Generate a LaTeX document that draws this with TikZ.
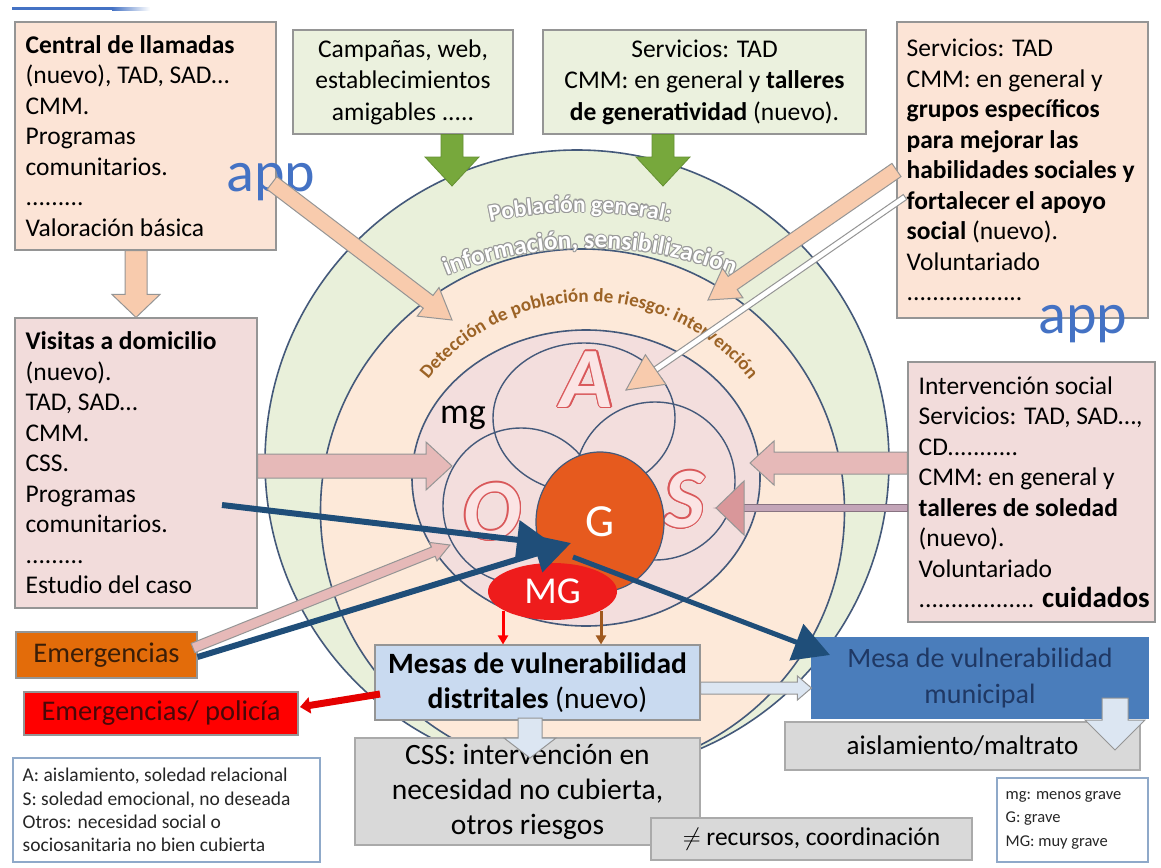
\documentclass[tikz,border=0pt]{standalone}
\usepackage{fontspec}
\setmainfont{Carlito}
\usepackage{contour}
\contourlength{1.3pt}
\usetikzlibrary{calc,arrows.meta,decorations.text,shapes.geometric}

\definecolor{peachfill}{HTML}{FCE4D6}
\definecolor{greenfill}{HTML}{EBF1DE}
\definecolor{pinkfill}{HTML}{F2DCDB}
\definecolor{ringgreen}{HTML}{E9F0DA}
\definecolor{ringpeach}{HTML}{FDE9D9}
\definecolor{ringpink}{HTML}{F3DEDD}
\definecolor{ringline}{HTML}{44597A}
\definecolor{boxline}{HTML}{959595}
\definecolor{arrowpeach}{HTML}{F8CBAD}
\definecolor{arrowpink}{HTML}{E6B9B8}
\definecolor{arrowrose}{HTML}{D9979A}
\definecolor{arrowmauve}{HTML}{C3A5B8}
\definecolor{arrowgreen}{HTML}{77A83C}
\definecolor{navy}{HTML}{1F4E79}
\definecolor{gfill}{HTML}{E65A1E}
\definecolor{mgfill}{HTML}{EE1C1C}
\definecolor{orangebox}{HTML}{E36C0A}
\definecolor{lightblue}{HTML}{C9DAF0}
\definecolor{paleblue}{HTML}{DCE6F2}
\definecolor{midblue}{HTML}{4A7DBB}
\definecolor{darknavy}{HTML}{1F3864}
\definecolor{grayfill}{HTML}{D9D9D9}
\definecolor{appblue}{HTML}{4472C4}
\definecolor{brownarr}{HTML}{A0591E}
\definecolor{dettext}{HTML}{9C6326}
\definecolor{letterline}{HTML}{D9585A}
\definecolor{letterfill}{HTML}{FBE4E4}
\definecolor{legendline}{HTML}{8FA9C9}
\definecolor{shadowgray}{HTML}{9A9A9A}
\definecolor{emergtext}{HTML}{3B1E08}
\definecolor{policetext}{HTML}{4A0808}

\newcommand\fsz[2]{\fontsize{#1pt}{#2pt}\selectfont}

% block arrow: style, from, to, shaft half width, head half width, head length
\newcommand\blockarrow[6]{%
  \coordinate (ba-b) at ($(#3)!#6!(#2)$);
  \path[#1] ($(#2)!#4!90:(#3)$) -- ($(ba-b)!#4!-90:(#2)$) -- ($(ba-b)!#5!-90:(#2)$)
    -- (#3) -- ($(ba-b)!#5!90:(#2)$) -- ($(ba-b)!#4!90:(#2)$) -- ($(#2)!#4!-90:(#3)$) -- cycle;}
% triangular head only: style, from, to, head half width, head length
\newcommand\headtri[5]{%
  \coordinate (ht-b) at ($(#3)!#5!(#2)$);
  \path[#1] ($(ht-b)!#4!-90:(#2)$) -- (#3) -- ($(ht-b)!#4!90:(#2)$) -- cycle;}
% white lettering with a grey halo along an arc: centre, radius, start, end, size, text
\newcommand\haloarc[6]{%
  \foreach \ox/\oy in {1.1/0,-1.1/0,0/1.1,0/-1.1,0.8/0.8,-0.8/0.8,0.8/-0.8,-0.8/-0.8}{%
    \path[decorate,decoration={text along path,text align=center,
      text={|\bfseries\fsz{#5}{#5}\color{shadowgray}|#6}}]
      ($(#1)+(\ox pt,\oy pt)+(#3:#2)$) arc[start angle=#3,end angle=#4,radius=#2];}%
  \path[decorate,decoration={text along path,text align=center,
      text={|\bfseries\fsz{#5}{#5}\color{white}|#6}}]
      ($(#1)+(#3:#2)$) arc[start angle=#3,end angle=#4,radius=#2];}

\begin{document}
\begin{tikzpicture}[x=1pt,y=-1pt,
  box/.style={rectangle,draw=boxline,line width=1.1pt,inner sep=2pt},
  peachbox/.style={box,fill=peachfill},
  greenbox/.style={box,fill=greenfill},
  pinkbox/.style={box,fill=pinkfill},
  graybox/.style={box,fill=grayfill,draw=boxline!80},
  legendbox/.style={box,fill=white,draw=legendline},
  txt/.style={inner sep=0pt,align=left,font=\fsz{25.5}{30.5}},
  ring/.style={draw=ringline,line width=1.6pt},
  venn/.style={draw=ringline,line width=1.4pt},
  bigletter/.style={font=\fsz{86}{86}\bfseries\itshape,inner sep=0pt},
  peacharrow/.style={fill=arrowpeach,draw=boxline,line width=1pt},
  pinkarrow/.style={fill=arrowpink,draw=boxline,line width=1pt},
  greenarrow/.style={fill=arrowgreen,draw=arrowgreen!85!black,line width=0.8pt},
  bluearrow/.style={fill=paleblue,draw=boxline,line width=1pt},
  navyarrow/.style={draw=navy,line width=6pt,-{Triangle[length=36pt,width=38pt]}},
  apptext/.style={text=appblue,font=\fsz{58}{58},inner sep=0pt}]

\fill[white] (0,0) rectangle (1161,867);
\useasboundingbox (0,0) rectangle (1161,867);

% accent line in the top left corner
\draw[appblue,line width=3pt] (12,9) -- (112,9);
\shade[left color=appblue,right color=white] (112,7.5) rectangle (150,10.5);

% concentric population rings
\draw[ring,fill=ringgreen] (577,462) circle[radius=312pt];
\draw[ring,fill=ringpeach] (582.5,511) circle[radius=262pt];
\draw[ring,fill=ringpink] (586,478) ellipse[x radius=174pt,y radius=148pt];

% overlapping risk groups
\draw[venn] (584,418) ellipse[x radius=91pt,y radius=75pt];
\draw[venn] (521,506) ellipse[x radius=78pt,y radius=78pt];
\draw[venn] (655,481) ellipse[x radius=80pt,y radius=79pt];

\node[bigletter] (letA) at (587,380) {\color{letterfill}\contour{letterline}{A}};
\node[bigletter] (letO) at (492,512) {\color{letterfill}\contour{letterline}{O}};
\node[bigletter] (letS) at (684,500) {\color{letterfill}\contour{letterline}{S}};
\node[font=\fsz{36}{36},inner sep=0pt] (mg) at (463,418) {mg};

% ring captions
\haloarc{580,632}{420pt}{130}{50}{23.5}{Población general:}
\haloarc{590,634}{386pt}{130}{50}{25.5}{información, sensibilización}
\path[decorate,decoration={text along path,text align=center,
  text={|\bfseries\fsz{19}{19}\color{dettext}|Detección  de población de riesgo: intervención}}]
  ($(589,507)+(170:205pt)$) arc[start angle=170,end angle=10,radius=205pt];

% severity levels
\node[ellipse,draw=ringline,line width=1.2pt,fill=gfill,minimum width=128pt,minimum height=140pt,
  inner sep=0pt,text=white,font=\fsz{46}{46}] (G) at (600,522) {G};
\node[ellipse,fill=mgfill,minimum width=129pt,minimum height=57pt,inner sep=0pt,
  text=white,font=\fsz{38}{38}] (MG) at (552.5,591.5) {MG};

% resource boxes
\node[peachbox,minimum width=261pt,minimum height=228pt] (box1) at (145.5,136) {};
\node[txt,anchor=west] (box1t) at ([xshift=11pt]box1.west) {\textbf{Central de llamadas}\\(nuevo), TAD, SAD…\\CMM.\\Programas\\comunitarios.\\.........\\Valoración básica};

\node[greenbox,minimum width=220pt,minimum height=104pt,align=center,font=\fsz{25.5}{31.5}] (box2) at (403,82)
  {Campañas, web,\\establecimientos\\amigables .....};
\node[greenbox,minimum width=323pt,minimum height=104pt,align=center,font=\fsz{25.5}{31.5}] (box3) at (704.5,82)
  {Servicios: TAD\\CMM: en general y \textbf{talleres}\\\textbf{de generatividad} (nuevo).};

\node[peachbox,minimum width=251pt,minimum height=296pt] (box4) at (1022.5,170) {};
\node[txt,anchor=west] (box4t) at ([xshift=10pt]box4.west) {Servicios: TAD\\CMM: en general y\\\textbf{grupos específicos}\\\textbf{para mejorar las}\\\textbf{habilidades sociales y}\\\textbf{fortalecer el apoyo}\\\textbf{social} (nuevo).\\Voluntariado\\..................};

\node[pinkbox,minimum width=242pt,minimum height=290pt] (visit) at (136,463) {};
\node[txt,anchor=west] (visitt) at ([xshift=11pt]visit.west) {\textbf{Visitas a domicilio}\\(nuevo).\\TAD, SAD…\\CMM.\\CSS.\\Programas\\comunitarios.\\.........\\Estudio del caso};

\node[pinkbox,minimum width=247pt,minimum height=260pt] (interv) at (1031.5,492) {};
\node[txt,anchor=west] (intervt) at ([xshift=11pt]interv.west) {Intervención social\\Servicios: TAD, SAD…,\\CD...........\\CMM: en general y\\\textbf{talleres de soledad}\\(nuevo).\\Voluntariado\\.................. {\fsz{29}{30.5}\bfseries cuidados}};

\node[box,fill=orangebox,minimum width=181pt,minimum height=46pt,text=emergtext,font=\fsz{28.5}{28.5}] (emerg) at (106.5,655) {Emergencias};
\node[box,fill=red,minimum width=274pt,minimum height=43pt,text=policetext,font=\fsz{28.5}{28.5}] (police) at (161,713.5) {Emergencias/ policía};

\node[legendbox,minimum width=307pt,minimum height=104pt] (legA) at (166.5,810) {};
\node[txt,anchor=west,font=\fsz{19.5}{23.3},text=black!85] (legAt) at ([xshift=10pt]legA.west) {A: aislamiento, soledad relacional\\S: soledad emocional, no deseada\\Otros: necesidad social o\\sociosanitaria no bien cubierta};

\node[box,fill=lightblue,minimum width=325pt,minimum height=75pt,align=center,font=\fsz{29.5}{35}] (mesas) at (537.5,682.5)
  {\textbf{Mesas de vulnerabilidad}\\\textbf{distritales} (nuevo)};
\node[graybox,minimum width=345pt,minimum height=107pt,align=center,font=\fsz{29.5}{35}] (css) at (527.5,791.5)
  {CSS: intervención en\\necesidad no cubierta,\\otros riesgos};
\node[box,fill=midblue,draw=midblue,minimum width=336pt,minimum height=80pt,align=center,text=darknavy,font=\fsz{28}{36}] (muni) at (980,678)
  {Mesa de vulnerabilidad\\municipal};
\node[graybox,minimum width=355pt,minimum height=48pt,font=\fsz{27}{27}] (aisl) at (962.5,746) {aislamiento/maltrato};
\node[graybox,minimum width=321pt,minimum height=42pt,font=\fsz{25.5}{25.5}] (recur) at (811.5,839) {$\neq$ recursos, coordinación};
\node[legendbox,minimum width=151pt,minimum height=84pt] (legB) at (1072.5,820) {};
\node[txt,anchor=west,font=\fsz{16.5}{23.5},text=black!85] (legBt) at ([xshift=9pt]legB.west) {mg: menos grave\\G: grave\\MG: muy grave};

% app labels
\node[apptext] (app1) at (271,182) {app};
\node[apptext] (app2) at (1083,324) {app};

% connector end points
\coordinate (d1s) at (visit.north |- box1.south);
\coordinate (g1s) at ($(box2.south)+(49,0)$);   \coordinate (g1e) at (452,186);
\coordinate (g2s) at ($(box3.south)+(-41.5,0)$); \coordinate (g2e) at (663,186);
\coordinate (pls) at (272,183);  \coordinate (ple) at (452,320);
\coordinate (prs) at (box4.west |- 0,170); \coordinate (pre) at (708,300);
\coordinate (ths) at (905,197);  \coordinate (the) at (626,390);
\coordinate (p1s) at (visit.east |- 0,466); \coordinate (p1e) at (452,466);
\coordinate (p2s) at (interv.west |- 0,463); \coordinate (p2e) at (750,463);
\coordinate (t2s) at (interv.west |- 0,508); \coordinate (t2e) at (716,508);
\coordinate (eps) at (193,648);  \coordinate (epe) at (450,545);
\coordinate (n1s) at (222,505);  \coordinate (n1e) at (553,544);
\coordinate (n2s) at (emerg.east |- 0,657); \coordinate (n2e) at (571,543);
\coordinate (n3s) at (573,557);  \coordinate (n3e) at (830,655);
\coordinate (r1s) at (503,611);  \coordinate (b1s) at (601,611);
\coordinate (rls) at (380,694);  \coordinate (rle) at (300,707);
\coordinate (lb1s) at (mesas.east |- 0,688); \coordinate (lb1e) at (muni.west |- 0,688);
\coordinate (lb2s) at (530,718); \coordinate (lb2e) at (530,758);
\coordinate (lb3s) at (1115,698); \coordinate (lb3e) at (1115,750);

% block arrows
\blockarrow{peacharrow}{d1s}{visit.north}{11pt}{24pt}{23pt}
\blockarrow{greenarrow}{g1s}{g1e}{11pt}{27pt}{29pt}
\blockarrow{greenarrow}{g2s}{g2e}{11pt}{27pt}{29pt}
\blockarrow{peacharrow}{pls}{ple}{8pt}{18pt}{30pt}
\blockarrow{peacharrow}{prs}{pre}{8pt}{18pt}{30pt}
\blockarrow{fill=white,draw=boxline,line width=1pt}{ths}{the}{3pt}{3pt}{36pt}
\headtri{fill=arrowpeach,draw=boxline,line width=1pt}{ths}{the}{18pt}{36pt}
\blockarrow{pinkarrow}{p1s}{p1e}{12pt}{24pt}{26pt}
\blockarrow{pinkarrow}{p2s}{p2e}{11pt}{22pt}{24pt}
\blockarrow{fill=arrowmauve,draw=arrowmauve!70!black,line width=0.8pt}{t2s}{t2e}{3.5pt}{3.5pt}{28pt}
\headtri{fill=arrowrose,draw=boxline,line width=1pt}{t2s}{t2e}{27pt}{28pt}
\blockarrow{pinkarrow}{eps}{epe}{5pt}{10pt}{18pt}
\blockarrow{bluearrow}{lb1s}{lb1e}{6pt}{12pt}{14pt}
\blockarrow{bluearrow}{lb2s}{lb2e}{12pt}{26pt}{20pt}
\blockarrow{bluearrow}{lb3s}{lb3e}{13pt}{30pt}{30pt}

% referral lines
\draw[navyarrow] (n1s) -- (n1e);
\draw[navyarrow] (n2s) -- (n2e);
\draw[navyarrow,line width=5pt] (n3s) -- (n3e);
\draw[red,line width=3pt,-{Triangle[length=9pt,width=10pt]}] (r1s) -- (r1s |- mesas.north);
\draw[brownarr,line width=3pt,-{Triangle[length=9pt,width=10pt]}] (b1s) -- (b1s |- mesas.north);
\draw[red!90!black,line width=7pt,-{Triangle[length=10pt,width=16pt]}] (rls) -- (rle);
\end{tikzpicture}
\end{document}
